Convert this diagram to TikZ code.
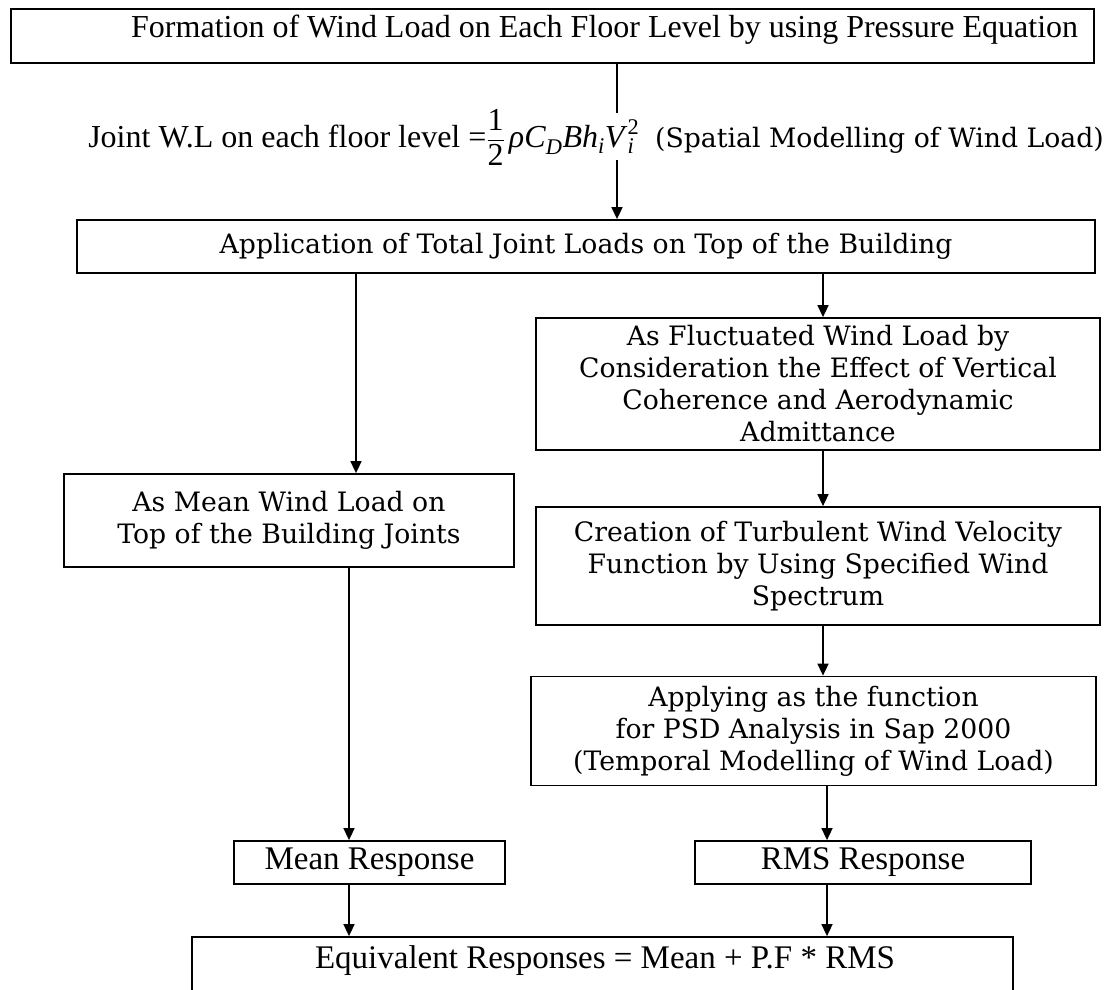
\documentclass[tikz,border=0pt]{standalone}
\usepackage{fontspec}
\usepackage{amsmath}
\setmainfont{Liberation Serif}
\newfontfamily\boxserif{DejaVu Serif}
\usetikzlibrary{arrows.meta}
\begin{document}
\begin{tikzpicture}[x=1pt,y=-1pt,
  frame/.style={draw, line width=1.8pt, inner sep=0pt},
  box/.style={frame, align=center, font=\boxserif\fontsize{26.7}{32}\selectfont},
  tbox/.style={frame, align=center, font=\fontsize{33}{38}\selectfont},
  tnr/.style={inner sep=0pt, font=\fontsize{32}{38}\selectfont},
  ln/.style={line width=1.6pt},
  arr/.style={line width=1.6pt, -{Triangle[length=12pt,width=11pt]}}]
\useasboundingbox (0,0) rectangle (1107,989);

% boxes
\node[frame, minimum width=1083pt, minimum height=54pt] (topbox) at (552.5,36) {};
\node[tnr, anchor=west] (toptext) at (131,30) {Formation of Wind Load on Each Floor Level by using Pressure Equation};

\node[tnr, anchor=base east] (formula) at (1104,147)
  {Joint W.L on each floor level =$\dfrac{\text{1}}{\text{2}}\,
   \text{\textit{ρC}}_{\text{\textit{D}}}\text{\textit{Bh}}_{\text{\textit{i}}}\text{\textit{V}}_{\text{\textit{i}}}^{\text{2}}$\ \ {\boxserif\fontsize{26.7}{32}\selectfont(Spatial Modelling of Wind Load)}};

\node[box, minimum width=1018pt, minimum height=53pt] (apply) at (586,246.5)
  {Application of Total Joint Loads on Top of the Building};

\node[box, minimum width=564pt, minimum height=132pt] (fluct) at (818,384)
  {As Fluctuated Wind Load by\\Consideration the Effect of Vertical\\Coherence and Aerodynamic\\Admittance};
\path (fluct.north) ++(0,-2) coordinate (fluctTop);

\node[box, minimum width=564pt, minimum height=118pt] (turb) at (818,566)
  {Creation of Turbulent Wind Velocity\\Function by Using Specified Wind\\Spectrum};

\node[box, minimum width=565pt, minimum height=109pt] (psd) at (813.5,731)
  {Applying as the function\\for PSD Analysis in Sap 2000\\(Temporal Modelling of Wind Load)};

\node[box, minimum width=450pt, minimum height=93pt] (mean) at (289,520.5)
  {As Mean Wind Load on\\Top of the Building Joints};

\node[tbox, minimum width=271pt, minimum height=43pt] (meanresp) at (369.5,862.5) {Mean Response};
\node[tbox, minimum width=336pt, minimum height=43pt] (rmsresp) at (863,862.5) {RMS Response};

\node[frame, minimum width=821pt, minimum height=73pt] (equiv) at (602.5,973.5) {};
\node[inner sep=0pt, font=\fontsize{33}{38}\selectfont] (equivtext) at (605,961) {Equivalent Responses = Mean + P.F * RMS};

% connector positions
\coordinate (f1) at (617,113);
\coordinate (f2) at (617,160);
\coordinate (xl) at (356,0);
\coordinate (xm) at (349,0);
\coordinate (xr) at (823,0);
\coordinate (xr2) at (827,0);

\draw[ln] (topbox.south -| f1) -- (f1);
\draw[arr] (f2) -- (apply.north -| f2);
\draw[arr] (apply.south -| xl) -- (mean.north -| xl);
\draw[arr] (apply.south -| xr) -- (fluct.north -| xr);
\draw[arr] (fluct.south -| xr) -- (turb.north -| xr);
\draw[arr] (turb.south -| xr) -- (psd.north -| xr);
\draw[arr] (psd.south -| xr2) -- (rmsresp.north -| xr2);
\draw[arr] (mean.south -| xm) -- (meanresp.north -| xm);
\draw[arr] (meanresp.south -| xm) -- (equiv.north -| xm);
\draw[arr] (rmsresp.south -| xr2) -- (equiv.north -| xr2);
\end{tikzpicture}
\end{document}
